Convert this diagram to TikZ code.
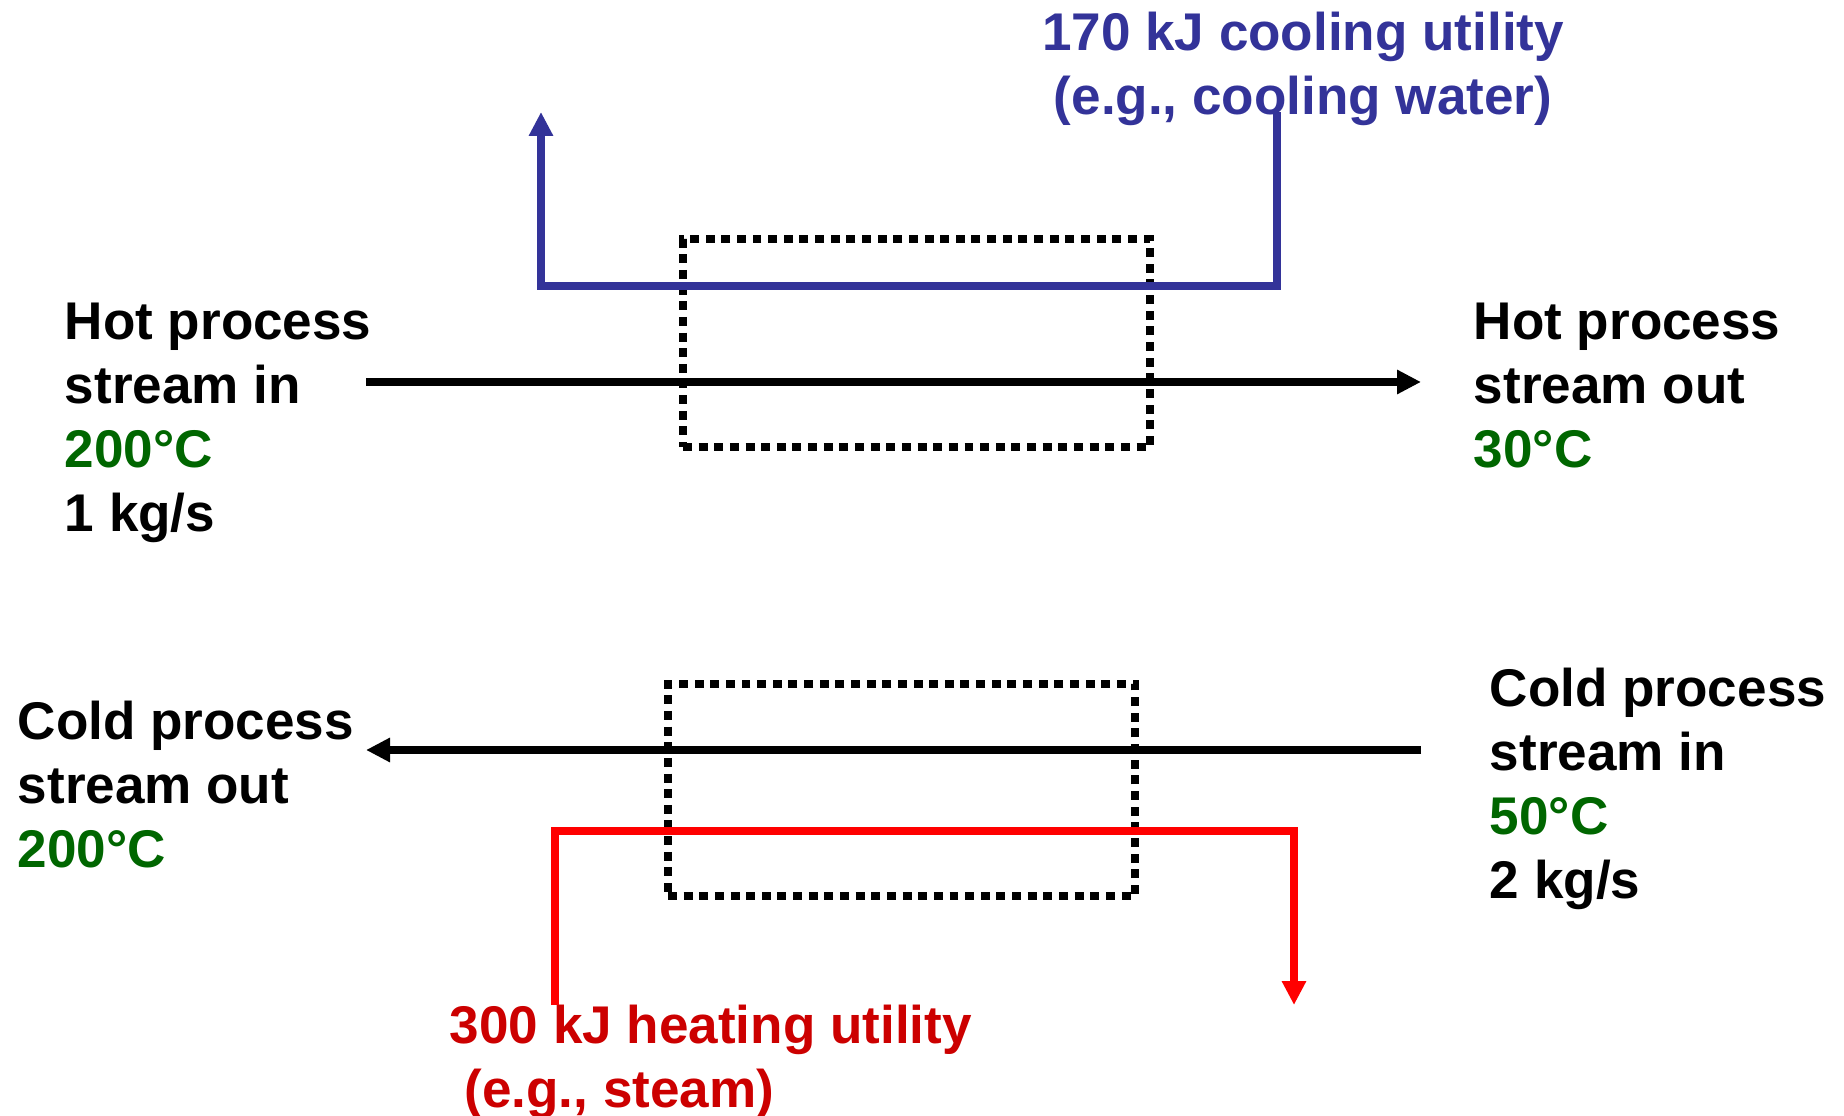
\documentclass[tikz,border=0pt]{standalone}
\usepackage{fontspec}
\setmainfont{Liberation Sans}
\usepackage{tikz}
\usetikzlibrary{arrows.meta,positioning}
\usepackage{xcolor}
\definecolor{utilblue}{RGB}{51,51,153}
\definecolor{steamred}{RGB}{255,0,0}
\definecolor{steamtext}{RGB}{204,0,0}
\definecolor{tempgreen}{RGB}{0,102,0}
\newcommand{\lbl}{\fontsize{30.2pt}{36.4pt}\selectfont\bfseries}

\begin{document}
\begin{tikzpicture}[
    label/.style={inner sep=0pt, align=left, anchor=north west, font=\lbl},
    hxbox/.style={draw, line width=4pt, dash pattern=on 5.1pt off 3.8pt,
                  minimum width=9.34cm, inner sep=0pt},
    stream/.style={line width=4pt, -{Triangle[length=0.48cm,width=0.46cm]}},
    utility/.style={line width=4pt, -{Triangle[length=0.48cm,width=0.46cm]}}
]
\useasboundingbox (0,0) rectangle (36.88,22.3);
\node[hxbox, minimum height=4.16cm] (hxtop) at (18.33,15.44) {};
\node[hxbox, minimum height=4.24cm] (hxbot) at (18.03,6.5) {};
\node[label] (hotin) at (1.29,16.24) {Hot process\\stream in\\\textcolor{tempgreen}{200°C}\\1 kg/s};
\node[label] (hotout) at (29.47,16.24) {Hot process\\stream out\\\textcolor{tempgreen}{30°C}};
\node[label] (coldout) at (0.35,8.28) {Cold process\\stream out\\\textcolor{tempgreen}{200°C}};
\node[label] (coldin) at (29.79,8.94) {Cold process\\stream in\\\textcolor{tempgreen}{50°C}\\2 kg/s};
\node[label, anchor=north, align=center, text=utilblue] (cwlbl) at (26.06,22.06) {170 kJ cooling utility\\(e.g., cooling water)};
\node[label, text=steamtext] (stlbl) at (8.99,2.2) {300 kJ heating utility\\\ (e.g., steam)};
\coordinate (hsin) at (7.32,14.66);
\coordinate (hsout) at (28.42,14.66);
\coordinate (csin) at (28.42,7.3);
\coordinate (csout) at (7.32,7.3);
\coordinate (cwin) at (25.54,20.06);
\coordinate (cwout) at (10.82,20.06);
\coordinate (stin) at (11.1,2.2);
\coordinate (stout) at (25.88,2.2);
\draw[stream] (hsin) -- (hsout);
\draw[stream] (csin) -- (csout);
\draw[utility, utilblue] (cwin) -- ++(0,-3.48) -| (cwout);
\draw[utility, steamred] (stin) -- ++(0,3.48) -| (stout);
\end{tikzpicture}
\end{document}
